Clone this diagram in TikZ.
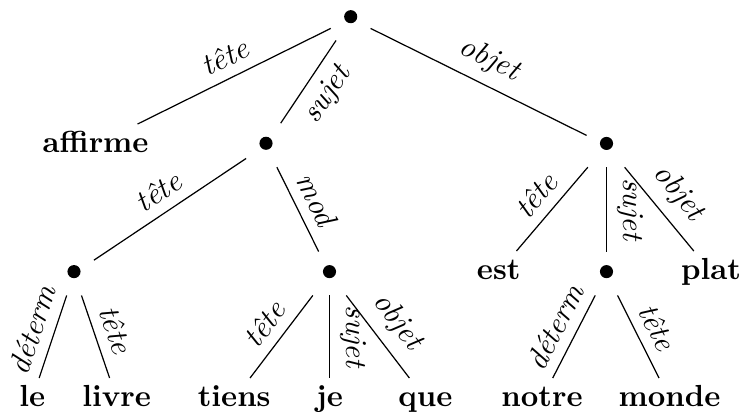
\documentclass[tikz,border=0pt]{standalone}
\usepackage{fontspec}
\begin{document}
\begin{tikzpicture}[x=0.328pt,y=-0.328pt,
  dotnode/.style={rectangle,inner sep=0pt,minimum width=12.66pt,minimum height=14pt,
     label={[circle,fill=black,inner sep=0pt,minimum size=4.3pt,yshift=0.61pt]center:{}}},
  word/.style={rectangle,anchor=north,inner sep=2.2pt,text height=6.94pt,text depth=1.94pt,font=\bfseries},
  rel/.style={midway,sloped,above,font=\itshape},
  relb/.style={midway,sloped,below,font=\itshape},
  link/.style={line width=0.4pt}]
\useasboundingbox (0,0) rectangle (744,412);
% dot nodes
\node[dotnode] (r) at (350.7,18.55) {};
\node[dotnode] (d1) at (266,145.15) {};
\node[dotnode] (d2) at (606.5,145.3) {};
\node[dotnode] (d11) at (74,273.5) {};
\node[dotnode] (d12) at (329.5,273.5) {};
\node[dotnode] (d21) at (606.5,273.5) {};
% words
\node[word] (affirme) at (95.5,124) {affirme};
\node[word] (est) at (498.7,251) {est};
\node[word] (plat) at (711,251) {plat};
\node[word] (le) at (32.2,378) {le};
\node[word] (livre) at (116.7,378) {livre};
\node[word] (tiens) at (234.2,378) {tiens};
\node[word] (je) at (329.5,378) {je};
\node[word] (que) at (425.3,378) {que};
\node[word] (notre) at (542,378) {notre};
\node[word] (monde) at (669.5,378) {monde};
% edges
\draw[link] (r) -- node[rel] (l1) {tête} (affirme);
\draw[link] (r) -- node[relb] (l2) {sujet} (d1);
\draw[link] (r) -- node[rel] (l3) {objet} (d2);
\draw[link] (d1) -- node[rel] (l4) {tête} (d11);
\draw[link] (d1) -- node[rel] (l5) {mod} (d12);
\draw[link] (d2) -- node[rel] (l6) {tête} (est);
\draw[link] (d2) -- node[rel] (l7) {sujet} (d21);
\draw[link] (d2) -- node[rel] (l8) {objet} (plat);
\draw[link] (d11) -- node[rel] (l9) {déterm} (le);
\draw[link] (d11) -- node[rel] (l10) {tête} (livre);
\draw[link] (d12) -- node[rel] (l11) {tête} (tiens);
\draw[link] (d12) -- node[rel] (l12) {sujet} (je);
\draw[link] (d12) -- node[rel] (l13) {objet} (que);
\draw[link] (d21) -- node[rel] (l14) {déterm} (notre);
\draw[link] (d21) -- node[rel] (l15) {tête} (monde);
\end{tikzpicture}
\end{document}
